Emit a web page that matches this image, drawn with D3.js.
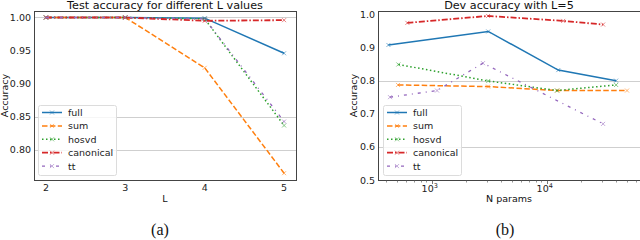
<!DOCTYPE html>
<html>
<head>
<meta charset="utf-8">
<script src="https://cdn.jsdelivr.net/npm/d3@7"></script>
<style>
  body { margin: 0; background: #fff; }
  svg { display: block; font-family: "DejaVu Sans", sans-serif; }
</style>
</head>
<body>
<svg width="640" height="240"></svg>
<script>
// left panel: test accuracy vs L
const lValues = [2, 3, 4, 5];
const testFull = [1.0, 1.0, 0.999, 0.946];
const testSum = [1.0, 1.0, 0.924, 0.765];
const testHosvd = [1.0, 1.0, 0.998, 0.837];
const testCanonical = [1.0, 1.0, 0.995, 0.996];
const testTt = [1.0, 1.0, 0.998, 0.843];
const leftYTicks = [0.80, 0.85, 0.90, 0.95, 1.00];
const leftGrid = [0.80, 0.85, 1.00];

// right panel: dev accuracy vs number of params (L=5)
const devFullN = [420, 3100, 12600, 40100];
const devFull = [0.909, 0.950, 0.833, 0.801];
const devSumN = [509, 3090, 12300, 49900];
const devSum = [0.788, 0.783, 0.771, 0.771];
const devHosvdN = [513, 3100, 12300, 40100];
const devHosvd = [0.850, 0.800, 0.771, 0.788];
const devCanonicalN = [614, 3090, 13900, 30900];
const devCanonical = [0.976, 0.997, 0.982, 0.971];
const devTtN = [434, 1112, 2790, 30900];
const devTt = [0.751, 0.771, 0.854, 0.670];
const rightYTicks = [0.5, 0.6, 0.7, 0.8, 0.9, 1.0];
const rightGrid = [0.6, 0.8];
const rightXTicks = [1000, 10000];

const seriesNames = ["full", "sum", "hosvd", "canonical", "tt"];
const colors = ["#1f77b4", "#ff7f0e", "#2ca02c", "#d62728", "#9467bd"];
const dashes = [null, "5.5,2.4", "1.5,2.5", "6,2,1.5,2", "3,5,1,5"];
const widths = [1.5, 1.5, 1.5, 1.8, 1.3];

const svg = d3.select("svg");

function drawPanel(cfg) {
  const g = svg.append("g");
  const x = cfg.x, y = cfg.y;
  const [x0, x1] = x.range();
  const [y0, y1] = y.range();

  g.selectAll(".grid").data(cfg.grid).enter().append("line")
    .attr("x1", x0).attr("x2", x1)
    .attr("y1", d => Math.round(y(d)) + 0.5).attr("y2", d => Math.round(y(d)) + 0.5)
    .attr("stroke", "#cfcfcf").attr("stroke-width", 1);

  const clipId = "clip" + cfg.id;
  g.append("clipPath").attr("id", clipId).append("rect")
    .attr("x", x0).attr("y", y1).attr("width", x1 - x0).attr("height", y0 - y1);

  const line = d3.line().x(d => x(d[0])).y(d => y(d[1]));
  const plot = g.append("g").attr("clip-path", `url(#${clipId})`);
  cfg.series.forEach((s, i) => {
    const pts = s.xs.map((v, j) => [v, s.ys[j]]);
    plot.append("path").datum(pts)
      .attr("d", line).attr("fill", "none")
      .attr("stroke", colors[i]).attr("stroke-width", widths[i])
      .attr("stroke-dasharray", dashes[i]);
    plot.selectAll(null).data(pts).enter().append("path")
      .attr("d", d => {
        const cx = x(d[0]), cy = y(d[1]), r = 2;
        return `M${cx - r},${cy - r}L${cx + r},${cy + r}M${cx - r},${cy + r}L${cx + r},${cy - r}`;
      })
      .attr("stroke", colors[i]).attr("stroke-width", 0.8).attr("opacity", 0.7);
  });

  // frame
  g.append("rect").attr("x", x0 + 0.5).attr("y", y1 + 0.5)
    .attr("width", x1 - x0).attr("height", y0 - y1)
    .attr("fill", "none").attr("stroke", "#444").attr("stroke-width", 1);

  // y ticks
  g.selectAll(".yt").data(cfg.yTicks).enter().append("text")
    .attr("x", x0 - 3).attr("y", d => y(d) + 3.5)
    .attr("text-anchor", "end").attr("font-size", 9.5).attr("fill", "#222")
    .text(cfg.yFmt);

  // x ticks
  cfg.xTickFn(g);

  // titles
  g.append("text").attr("x", (x0 + x1) / 2).attr("y", 9)
    .attr("text-anchor", "middle").attr("font-size", 11.2).attr("fill", "#111")
    .text(cfg.title);
  g.append("text").attr("x", (x0 + x1) / 2).attr("y", 202)
    .attr("text-anchor", "middle").attr("font-size", 9.5).attr("fill", "#111")
    .text(cfg.xLabel);
  g.append("text")
    .attr("transform", `translate(${cfg.yLabelX},${(y0 + y1) / 2}) rotate(-90)`)
    .attr("text-anchor", "middle").attr("font-size", 9.5).attr("fill", "#111")
    .text("Accuracy");
  g.append("text").attr("x", cfg.captionX).attr("y", 235)
    .attr("text-anchor", "middle").attr("font-size", 16)
    .attr("font-family", "'Liberation Serif', 'DejaVu Serif', serif").attr("fill", "#111")
    .text(cfg.caption);

  // legend
  const lx = x0 + cfg.legendDx, ly = 105;
  g.append("rect").attr("x", lx + 0.5).attr("y", ly + 0.5).attr("width", 78).attr("height", 70)
    .attr("rx", 2).attr("fill", "#fff").attr("fill-opacity", 0.8)
    .attr("stroke", "#dcdcdc");
  seriesNames.forEach((name, i) => {
    const yy = ly + 7.5 + i * 13.4;
    g.append("line").attr("x1", lx + 4).attr("x2", lx + 24)
      .attr("y1", yy).attr("y2", yy)
      .attr("stroke", colors[i]).attr("stroke-width", widths[i])
      .attr("stroke-dasharray", dashes[i]);
    const cx = lx + 14, r = 2;
    g.append("path")
      .attr("d", `M${cx - r},${yy - r}L${cx + r},${yy + r}M${cx - r},${yy + r}L${cx + r},${yy - r}`)
      .attr("stroke", colors[i]).attr("stroke-width", 0.8).attr("opacity", 0.7);
    g.append("text").attr("x", lx + 30).attr("y", yy + 3.5)
      .attr("font-size", 9.5).attr("fill", "#222").text(name);
  });
}

const xL = d3.scaleLinear().domain([1.85, 5.15]).range([34, 296]);
const yL = d3.scaleLinear().domain([0.7547, 1.0098]).range([180, 11]);
const leftData = [testFull, testSum, testHosvd, testCanonical, testTt];

drawPanel({
  id: "a", x: xL, y: yL,
  grid: leftGrid, yTicks: leftYTicks, yFmt: d3.format(".2f"),
  series: leftData.map(ys => ({ xs: lValues, ys })),
  xTickFn: g => {
    g.selectAll(".xt").data(lValues).enter().append("text")
      .attr("x", d => xL(d)).attr("y", 191)
      .attr("text-anchor", "middle").attr("font-size", 9.5).attr("fill", "#222")
      .text(d => d);
  },
  title: "Test accuracy for different L values", xLabel: "L",
  yLabelX: 8, caption: "(a)", captionX: 160, legendDx: 4
});

const xR = d3.scaleLog().domain([341, 64700]).range([378, 640]);
const yR = d3.scaleLinear().domain([0.5, 1.012]).range([180, 11]);
const rightN = [devFullN, devSumN, devHosvdN, devCanonicalN, devTtN];
const rightData = [devFull, devSum, devHosvd, devCanonical, devTt];

drawPanel({
  id: "b", x: xR, y: yR,
  grid: rightGrid, yTicks: rightYTicks, yFmt: d3.format(".1f"),
  series: rightData.map((ys, i) => ({ xs: rightN[i], ys })),
  xTickFn: g => {
    const minor = xR.ticks().filter(t => rightXTicks.indexOf(t) < 0);
    g.selectAll(".mt").data(minor).enter().append("line")
      .attr("x1", d => Math.round(xR(d)) + 0.5).attr("x2", d => Math.round(xR(d)) + 0.5)
      .attr("y1", 180.5).attr("y2", 182.5).attr("stroke", "#666").attr("stroke-width", 0.7);
    g.selectAll(".Mt").data(rightXTicks).enter().append("line")
      .attr("x1", d => Math.round(xR(d)) + 0.5).attr("x2", d => Math.round(xR(d)) + 0.5)
      .attr("y1", 180.5).attr("y2", 184).attr("stroke", "#555").attr("stroke-width", 0.8);
    const t = g.selectAll(".xt").data(rightXTicks).enter().append("text")
      .attr("x", d => xR(d) - 2).attr("y", 192)
      .attr("text-anchor", "middle").attr("font-size", 9.5).attr("fill", "#222");
    t.append("tspan").text("10");
    t.append("tspan").attr("dy", -4).attr("font-size", 6.5)
      .text(d => Math.round(Math.log10(d)));
  },
  title: "Dev accuracy with L=5", xLabel: "N params",
  yLabelX: 357, caption: "(b)", captionX: 505, legendDx: 5
});
</script>
</body>
</html>
